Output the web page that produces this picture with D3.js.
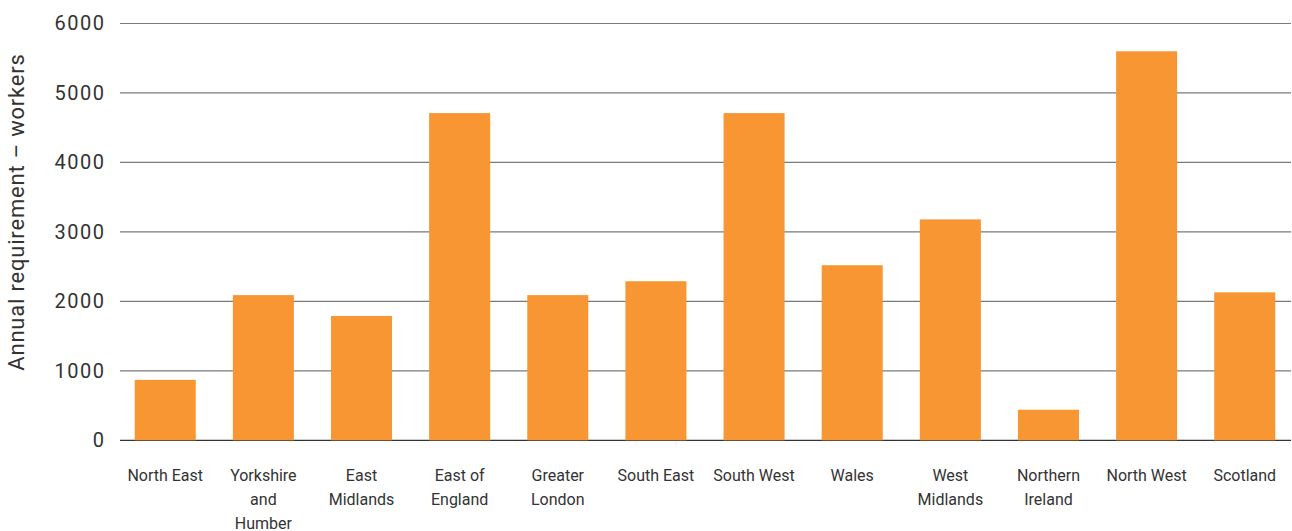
<!DOCTYPE html>
<html><head><meta charset="utf-8">
<script src="https://cdn.jsdelivr.net/npm/d3@7"></script>
<style>
html,body{margin:0;padding:0;background:#fff;}
text{font-family:Roboto,"Noto Sans",sans-serif;}
</style></head>
<body><svg id="chart" width="1292" height="531"></svg>
<script>
const categories = ["North East","Yorkshire and Humber","East Midlands","East of England","Greater London","South East","South West","Wales","West Midlands","Northern Ireland","North West","Scotland"];
const labelLines = [["North East"],["Yorkshire","and","Humber"],["East","Midlands"],["East of","England"],["Greater","London"],["South East"],["South West"],["Wales"],["West","Midlands"],["Northern","Ireland"],["North West"],["Scotland"]];
const values = [870,2090,1790,4710,2090,2290,4710,2520,3180,440,5600,2130];
const yTicks = [0,1000,2000,3000,4000,5000,6000];
const yTitle = "Annual requirement – workers";

(function(){
const svg = d3.select("#chart");
const mLeft = 120, mRight = 1291, mTop = 23.5, mBottom = 440.3;
const x = d3.scaleBand().domain(categories).range([mLeft, 1290]).paddingInner(0.378).paddingOuter(0.15);
const y = d3.scaleLinear().domain([0, 6000]).range([mBottom, mTop]);

// gridlines
const grid = svg.append("g");
grid.selectAll("line").data(yTicks).join("line")
  .attr("x1", mLeft).attr("x2", mRight)
  .attr("y1", d => y(d)).attr("y2", d => y(d))
  .attr("stroke", d => d === 0 ? "#333" : "#7a7a7a")
  .attr("stroke-width", 1.2);

// y tick labels
const yAxis = d3.axisLeft(y).tickValues(yTicks).tickSize(0).tickPadding(14.5).tickFormat(d3.format("d"));
const ya = svg.append("g").attr("transform", `translate(${mLeft},0)`).call(yAxis);
ya.select(".domain").remove();
ya.selectAll("text").attr("font-size", 20).attr("fill", "#333")
  .attr("letter-spacing", "1.5px").attr("font-family", "Roboto, sans-serif");

// bars
svg.append("g").selectAll("rect").data(values).join("rect")
  .attr("x", (d,i) => x(categories[i]))
  .attr("width", x.bandwidth())
  .attr("y", d => y(d))
  .attr("height", d => y(0) - y(d))
  .attr("fill", "#F79633");

// x labels
const xl = svg.append("g");
categories.forEach((c, i) => {
  const cx = x(c) + x.bandwidth()/2;
  const t = xl.append("text")
    .attr("x", cx)
    .attr("y", 480.5)
    .attr("text-anchor", "middle")
    .attr("font-size", 16)
    .attr("fill", "#333");
  labelLines[i].forEach((ln, j) => {
    t.append("tspan").attr("x", cx).attr("dy", j === 0 ? 0 : 24).text(ln);
  });
});

// y title
svg.append("text")
  .attr("transform", "translate(24,212) rotate(-90)")
  .attr("text-anchor", "middle")
  .attr("font-size", 22)
  .attr("letter-spacing", "0.8px")
  .attr("fill", "#333")
  .text(yTitle);
})();
</script>
</body></html>
